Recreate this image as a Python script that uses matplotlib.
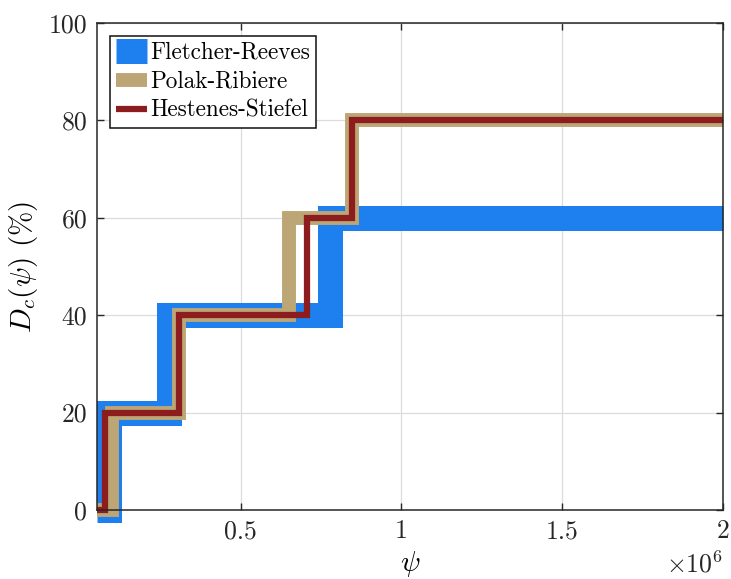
import matplotlib
matplotlib.use('Agg')
import matplotlib.pyplot as plt
import numpy as np

plt.rcParams['font.family'] = 'serif'
plt.rcParams['font.serif'] = ['cmr10']
plt.rcParams['mathtext.fontset'] = 'cm'
plt.rcParams['axes.unicode_minus'] = False

# step edges (psi) and detection level (%) for each method
psi_fr = [0.053e6, 0.090e6, 0.278e6, 0.778e6, 2.0e6]
dc_fr = [0, 20, 40, 60, 60]

psi_pr = [0.053e6, 0.099e6, 0.307e6, 0.651e6, 0.845e6, 2.0e6]
dc_pr = [0, 20, 40, 60, 80, 80]

psi_hs = [0.053e6, 0.078e6, 0.309e6, 0.705e6, 0.845e6, 2.0e6]
dc_hs = [0, 20, 40, 60, 80, 80]

labels = ['Fletcher-Reeves', 'Polak-Ribiere', 'Hestenes-Stiefel']
colors = ['#1e80ee', '#bca676', '#8c1c1e']
widths = [18, 10, 4.5]

xticks = [0.5e6, 1.0e6, 1.5e6, 2.0e6]
xticklabels = ['0.5', '1', '1.5', '2']
yticks = [0, 20, 40, 60, 80, 100]

fig = plt.figure(figsize=(7.31, 5.79), dpi=100)
ax = fig.add_axes([0.1327, 0.1192, 0.8563, 0.8411])

for x, y, lab, c, lw in zip([psi_fr, psi_pr, psi_hs], [dc_fr, dc_pr, dc_hs],
                            labels, colors, widths):
    ax.step(x, y, where='post', color=c, lw=lw, label=lab, clip_on=False,
            solid_joinstyle='miter', solid_capstyle='butt')

ax.set_xlim(0.053e6, 2.0e6)
ax.set_ylim(0, 100)
ax.set_xticks(xticks)
ax.set_xticklabels(xticklabels)
ax.set_yticks(yticks)
ax.text(1.0, -0.112, r'$\times10^{6}$', transform=ax.transAxes, ha='right',
        va='center', fontsize=18.5, color='#262626')

ax.grid(True, color='#dcdcdc', lw=0.9)
ax.set_axisbelow(True)
ax.tick_params(direction='in', length=5, width=1, top=True, right=True,
               labelsize=18.5, colors='#262626', pad=7)
for s in ax.spines.values():
    s.set_color('#262626')
    s.set_linewidth(1.1)

ax.set_xlabel(r'$\psi$', fontsize=21, labelpad=4)
ax.set_ylabel(r'$D_c(\psi)$ (%)', fontsize=21, labelpad=6)

leg = ax.legend(loc='upper left', fontsize=16.7, fancybox=False, framealpha=1,
                edgecolor='#111111', handlelength=1.35, handletextpad=0.15,
                borderpad=0.25, labelspacing=0.3, borderaxespad=0.55)
leg.get_frame().set_linewidth(1.1)

fig.savefig('out.png', dpi=100)
